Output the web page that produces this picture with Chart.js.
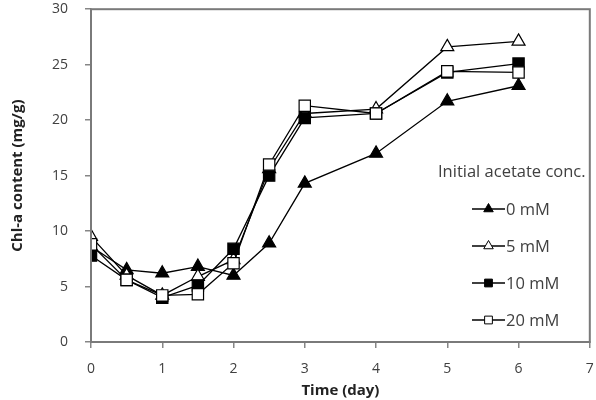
<!DOCTYPE html>
<html>
<head>
<meta charset="utf-8">
<script src="https://cdn.jsdelivr.net/npm/chart.js@4/dist/chart.umd.min.js"></script>
<style>
  html, body { margin: 0; padding: 0; background: #fff; overflow: hidden; }
  #wrap { width: 599px; height: 400px; position: relative; }
  canvas { display: block; }
</style>
</head>
<body>
<div id="wrap"><canvas id="chart"></canvas></div>
<script>
const days = [0, 0.5, 1, 1.5, 2, 2.5, 3, 4, 5, 6];
const conc0 = [8.6, 6.5, 6.2, 6.8, 6.0, 8.9, 14.3, 17.0, 21.7, 23.1];
const conc5 = [9.5, 6.0, 4.2, 5.9, 7.4, 15.6, 20.6, 21.0, 26.6, 27.1];
const conc10 = [7.8, 5.6, 4.0, 5.1, 8.4, 15.0, 20.2, 20.6, 24.3, 25.1];
const conc20 = [8.8, 5.6, 4.2, 4.3, 7.1, 16.0, 21.3, 20.6, 24.4, 24.3];
const seriesNames = ['0 mM', '5 mM', '10 mM', '20 mM'];
const xTicks = [0, 1, 2, 3, 4, 5, 6, 7];
const yTicks = [0, 5, 10, 15, 20, 25, 30];

const FONT = 'Open Sans';
const TEXT = '#404040';
const AXIS = '#868686';

function pts(ys) { return days.map((d, i) => ({ x: d, y: ys[i] })); }

const styles = [
  { style: 'triangle', fill: '#000', r: 7.5 },
  { style: 'triangle', fill: '#fff', r: 7.5 },
  { style: 'rect', fill: '#000', r: 8 },
  { style: 'rect', fill: '#fff', r: 8 }
];

const datasets = [conc0, conc5, conc10, conc20].map((ys, i) => ({
  label: seriesNames[i],
  data: pts(ys),
  borderColor: '#000',
  borderWidth: 1.3,
  pointStyle: styles[i].style,
  pointRadius: styles[i].r,
  pointBackgroundColor: styles[i].fill,
  pointBorderColor: '#000',
  pointBorderWidth: 1.2,
  tension: 0,
  order: 4 - i
}));

// frame round the plot and the legend inside it, like the excel one
const legendPlugin = {
  id: 'innerLegend',
  afterDraw(chart) {
    const ctx = chart.ctx;
    const a = chart.chartArea;
    ctx.save();
    ctx.strokeStyle = '#7a7a7a';
    ctx.lineWidth = 2;
    ctx.strokeRect(a.left, a.top, a.right - a.left, a.bottom - a.top);

    ctx.font = '16.5px "' + FONT + '"';
    ctx.textBaseline = 'middle';
    ctx.textAlign = 'left';
    ctx.fillStyle = TEXT;
    ctx.fillText('Initial acetate conc.', 438, 172);
    const rows = [209, 246, 283, 320];
    chart.data.datasets.forEach((ds, i) => {
      const y = rows[i];
      ctx.strokeStyle = '#000';
      ctx.lineWidth = 1.3;
      ctx.beginPath();
      ctx.moveTo(472, y);
      ctx.lineTo(505, y);
      ctx.stroke();
      ctx.fillStyle = ds.pointBackgroundColor;
      ctx.strokeStyle = '#000';
      ctx.lineWidth = 1;
      Chart.helpers.drawPoint(ctx, { pointStyle: ds.pointStyle, radius: 5.5, rotation: 0, borderWidth: 1 }, 488.5, y);
      ctx.fillStyle = TEXT;
      ctx.fillText(ds.label, 506, y + 1);
    });
    ctx.restore();
  }
};

new Chart(document.getElementById('chart'), {
  type: 'line',
  data: { datasets },
  options: {
    responsive: true,
    maintainAspectRatio: false,
    animation: false,
    layout: { padding: { top: 9, right: 1, left: 0, bottom: 0 } },
    plugins: { legend: { display: false }, tooltip: { enabled: false } },
    scales: {
      x: {
        type: 'linear',
        min: 0, max: 7,
        afterBuildTicks(s) { s.ticks = xTicks.map(v => ({ value: v })); },
        afterFit(s) { s.height = 58; s.paddingLeft = 0; s.paddingRight = 0; },
        grid: { drawOnChartArea: false, tickLength: 6, color: AXIS, lineWidth: 1.5 },
        border: { color: AXIS, width: 1.5 },
        ticks: { color: TEXT, font: { family: FONT, size: 14 }, padding: 13, maxRotation: 0 },
        title: { display: true, text: 'Time (day)', color: '#222', font: { family: FONT, size: 15, weight: 'bold' }, padding: { top: 0, bottom: 0 } }
      },
      y: {
        min: 0, max: 30,
        afterBuildTicks(s) { s.ticks = yTicks.map(v => ({ value: v })); },
        afterFit(s) { s.width = 91; s.paddingTop = 0; s.paddingBottom = 0; },
        grid: { drawOnChartArea: false, tickLength: 6, color: AXIS, lineWidth: 1.5 },
        border: { color: AXIS, width: 1.5 },
        ticks: { color: TEXT, font: { family: FONT, size: 14 }, padding: 17 },
        title: { display: true, text: 'Chl-a content (mg/g)', color: '#222', font: { family: FONT, size: 15, weight: 'bold' }, padding: { top: 9, bottom: 4 } }
      }
    }
  },
  plugins: [legendPlugin]
});
</script>
</body>
</html>
